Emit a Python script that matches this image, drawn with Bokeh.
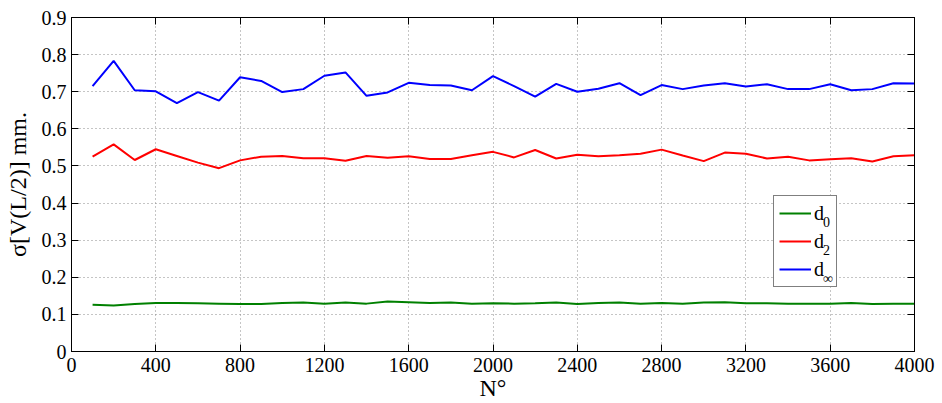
from bokeh.plotting import figure
from bokeh.models import (Range1d, FixedTicker, CustomJSTickFormatter, LinearAxis,
                          Legend, LegendItem, CustomLabelingPolicy)
from bokeh.embed import file_html
from bokeh.resources import INLINE

n_values = [100, 200, 300, 400, 500, 600, 700, 800, 900, 1000,
            1100, 1200, 1300, 1400, 1500, 1600, 1700, 1800, 1900, 2000,
            2100, 2200, 2300, 2400, 2500, 2600, 2700, 2800, 2900, 3000,
            3100, 3200, 3300, 3400, 3500, 3600, 3700, 3800, 3900, 4000]

d0 = [0.126, 0.124, 0.128, 0.131, 0.131, 0.130, 0.129, 0.128, 0.128, 0.131,
      0.132, 0.129, 0.132, 0.129, 0.135, 0.133, 0.131, 0.132, 0.129, 0.130,
      0.129, 0.130, 0.132, 0.128, 0.131, 0.132, 0.129, 0.131, 0.129, 0.132,
      0.133, 0.130, 0.130, 0.129, 0.129, 0.129, 0.131, 0.128, 0.129, 0.129]

d2 = [0.525, 0.558, 0.516, 0.545, 0.527, 0.509, 0.494, 0.515, 0.525, 0.527,
      0.521, 0.521, 0.514, 0.527, 0.522, 0.526, 0.519, 0.519, 0.529, 0.538,
      0.523, 0.543, 0.520, 0.530, 0.526, 0.529, 0.533, 0.544, 0.528, 0.513,
      0.536, 0.533, 0.520, 0.525, 0.515, 0.518, 0.521, 0.512, 0.526, 0.529]

dinf = [0.715, 0.783, 0.704, 0.701, 0.669, 0.699, 0.676, 0.739, 0.729, 0.699,
        0.707, 0.743, 0.752, 0.689, 0.698, 0.724, 0.718, 0.717, 0.704, 0.742,
        0.715, 0.687, 0.721, 0.700, 0.708, 0.723, 0.691, 0.718, 0.707, 0.717,
        0.723, 0.714, 0.720, 0.707, 0.707, 0.720, 0.704, 0.707, 0.723, 0.722]

x_ticks = [0, 400, 800, 1200, 1600, 2000, 2400, 2800, 3200, 3600, 4000]
y_ticks = [0, 0.1, 0.2, 0.3, 0.4, 0.5, 0.6, 0.7, 0.8, 0.9]

series_names = ["d", "d", "d"]
series_subs = ["0", "2", "\u221e"]
series_colors = ["#008000", "#ff0000", "#0000ff"]

FONT = "Liberation Serif"

p = figure(width=942, height=403, output_backend="svg", toolbar_location=None,
           x_range=Range1d(0, 4000), y_range=Range1d(0, 0.9),
           min_border_left=71, min_border_right=26, min_border_top=16,
           min_border_bottom=49)

p.outline_line_color = "black"
p.outline_line_width = 1
p.background_fill_color = "white"
p.border_fill_color = "white"

renderers = []
for ys, c in zip([d0, d2, dinf], series_colors):
    r = p.line(n_values, ys, line_color=c, line_width=2)
    renderers.append(r)

xfmt = CustomJSTickFormatter(code="return tick.toFixed(0);")
yfmt = CustomJSTickFormatter(code="return tick == 0 ? '0' : tick.toFixed(1);")

for ax in p.xaxis:
    ax.ticker = FixedTicker(ticks=x_ticks)
    ax.formatter = xfmt
for ax in p.yaxis:
    ax.ticker = FixedTicker(ticks=y_ticks)
    ax.formatter = yfmt


def style_axis(ax):
    ax.major_tick_in = 7
    ax.major_tick_out = 0
    ax.minor_tick_in = 0
    ax.minor_tick_out = 0
    ax.major_tick_line_color = "black"
    ax.axis_line_color = "black"
    ax.major_label_text_font = FONT
    ax.major_label_text_color = "black"
    ax.major_label_text_font_size = "20px"


style_axis(p.xaxis[0])
style_axis(p.yaxis[0])
p.xaxis[0].major_label_standoff = 6
p.yaxis[0].major_label_standoff = 5
p.xaxis[0].axis_label = "N\u00b0"
p.yaxis[0].axis_label = "\u03c3[V(L/2)] mm."
for ax in [p.xaxis[0], p.yaxis[0]]:
    ax.axis_label_text_font = FONT
    ax.axis_label_text_font_style = "normal"
    ax.axis_label_text_font_size = "24px"
    ax.axis_label_text_color = "black"
p.xaxis[0].axis_label_standoff = 0
p.yaxis[0].axis_label_standoff = 8

no_labels = CustomLabelingPolicy(code="""
    for (const i of indices) { indices.unset(i) }
    return indices
""")
top_ax = LinearAxis(ticker=FixedTicker(ticks=x_ticks), formatter=xfmt,
                    major_label_policy=no_labels)
right_ax = LinearAxis(ticker=FixedTicker(ticks=y_ticks), formatter=yfmt,
                      major_label_policy=no_labels)
for ax in [top_ax, right_ax]:
    style_axis(ax)
    ax.major_label_standoff = 0
p.add_layout(top_ax, "above")
p.add_layout(right_ax, "right")

p.xgrid.ticker = FixedTicker(ticks=x_ticks)
p.ygrid.ticker = FixedTicker(ticks=y_ticks)
p.grid.grid_line_color = "#8a8a8a"
p.grid.grid_line_dash = "1 3"
p.grid.grid_line_width = 1

# main legend: line samples and the "d" letters
items = [LegendItem(label=n, renderers=[r]) for n, r in zip(series_names, renderers)]
legend = Legend(items=items, location=(702, 64), padding=5, spacing=4,
                glyph_width=32, glyph_height=24, label_standoff=3, label_width=17,
                label_text_font=FONT, label_text_font_size="20px",
                label_text_color="black",
                border_line_color="black", border_line_width=1,
                background_fill_color="white", background_fill_alpha=1.0,
                margin=0)
p.add_layout(legend, "center")

# second, transparent legend that carries the subscripts
sub_items = [LegendItem(label=s, renderers=[r]) for s, r in zip(series_subs, renderers)]
sub_legend = Legend(items=sub_items, location=(752, 60), padding=0, spacing=4,
                    glyph_width=0, glyph_height=24, label_standoff=0, label_width=10,
                    label_text_font=FONT, label_text_font_size="14px",
                    label_text_color="black",
                    border_line_alpha=0, background_fill_alpha=0, margin=0)
p.add_layout(sub_legend, "center")

open("out.html", "w").write(file_html(p, INLINE))
